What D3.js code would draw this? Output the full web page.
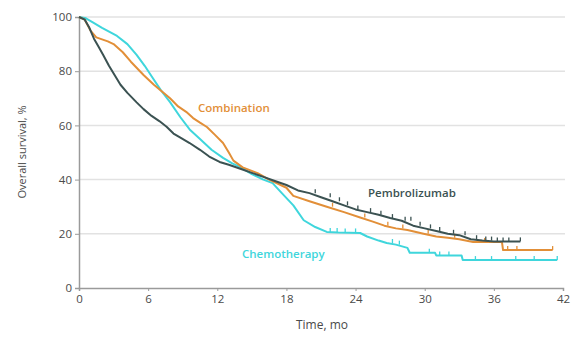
<!DOCTYPE html>
<html><head><meta charset="utf-8">
<script src="https://cdn.jsdelivr.net/npm/d3@7"></script>
<style>body{margin:0;background:#fff}svg{display:block}</style>
</head><body><svg id="c" width="576" height="338"></svg>
<script>
const xTicks = [0, 6, 12, 18, 24, 30, 36, 42];
const yTicks = [0, 20, 40, 60, 80, 100];
const seriesNames = ["Combination", "Pembrolizumab", "Chemotherapy"];
const pembroData = [[0,100],[0.5,99],[0.9,96],[1.3,92],[1.7,89],[2.1,86],[2.6,82],[3.1,78.5],[3.6,75],[4.2,72],[5,68.5],[5.6,66],[6.3,63.5],[7,61.5],[7.6,59.5],[8.2,57],[8.8,55.5],[9.6,53.5],[10.5,51],[11.3,48.5],[12.2,46.5],[13,45.5],[14,44],[15,42.5],[16,41],[17,39.5],[18,38],[19,36],[20,35],[21,33.5],[22,32],[23,30.5],[24,29],[25,28],[26,27],[27,25.8],[28,24.8],[29,23],[30,22],[31,21],[32,20],[33,19.5],[34,18],[35,17.5],[36,17.2],[38.3,17.2]];
const comboData = [[0,100],[0.5,99],[1,95],[1.5,92.5],[2.5,91],[3,90],[3.8,87],[4.5,83.5],[5.6,78.6],[6.5,75],[7.2,72.5],[7.9,70],[8.6,67],[9.3,65],[9.9,62.7],[10.5,61],[11.1,59.4],[11.8,56.5],[12.5,53.5],[13,50],[13.4,47],[14.2,44.5],[15.5,42.4],[16.5,40],[18,37],[18.6,34],[20,32],[21.5,30],[23,28],[24.4,26],[25.5,24.5],[26.5,23],[27.5,22],[28.5,21.4],[29.9,20],[31,19],[32,18.5],[33,18],[34.2,17],[36.7,17],[36.8,14],[41.1,14]];
const chemoData = [[0,100],[0.6,99.5],[1.2,98],[2,96],[3.3,93],[4.2,90],[5,86],[5.7,82],[6.4,77.5],[7.1,73],[7.9,68.6],[8.8,63],[9.6,58.5],[10.5,55],[11.5,51],[12.5,48],[13.3,46],[14,44.6],[15,42],[16,40],[16.8,38.7],[17.6,35],[18.6,30.5],[19.5,25],[20.5,22.5],[21.5,20.7],[22.5,20.5],[24.4,20.3],[25,19],[26,17.5],[26.7,16.6],[27.5,16],[28.5,14.8],[28.7,13],[30.9,13],[31,12],[33.2,12],[33.3,10.3],[41.5,10.3]];
const pembroCensor = [20.5,21.8,22.6,23.3,24.2,25.3,26.2,27.2,28.3,28.8,29.6,30.5,31.3,32.5,33.5,34.5,35.3,35.8,36.3,36.8,37.3,38.3];
const comboCensor = [22,24.8,26.8,28.1,30.3,32.6,35.2,37.2,38,41.1];
const chemoCensor = [21.8,22.4,23.1,24,27.2,27.8,30.4,31.3,32.1,34.4,35.8,37.9,39.5,41.5];
const colors = ["#e28f38", "#3b5252", "#3fd6dc"];

const svg = d3.select("#c");
const x = d3.scaleLinear().domain([0, 42]).range([79, 563]);
const y = d3.scaleLinear().domain([0, 100]).range([288, 17]);

svg.append("g").selectAll("line").data(yTicks.filter(d => d > 0)).join("line")
  .attr("x1", x(0)).attr("x2", 565).attr("y1", d => y(d)).attr("y2", d => y(d))
  .attr("stroke", "#e2e2e2").attr("stroke-width", 1.5);

const xAxis = svg.append("g").attr("transform", `translate(0,${y(0)})`)
  .call(d3.axisBottom(x).tickValues(xTicks).tickSize(3).tickPadding(4));
const yAxis = svg.append("g").attr("transform", `translate(${x(0)},0)`)
  .call(d3.axisLeft(y).tickValues(yTicks).tickSize(4).tickPadding(3));
[xAxis, yAxis].forEach(a => {
  a.select(".domain").attr("stroke", "#9a9a9a").attr("stroke-width", 1.5);
  a.selectAll(".tick line").attr("stroke", "#9a9a9a");
  a.selectAll("text").attr("fill", "#4a4a4a").style("font-family", "Open Sans").style("font-size", "11.5px");
});

svg.append("text").attr("x", 322).attr("y", 329).attr("text-anchor", "middle")
  .attr("fill", "#4a4a4a").style("font-family", "Open Sans").style("font-size", "12px").text("Time, mo");
svg.append("text").attr("transform", "translate(26,152) rotate(-90)").attr("text-anchor", "middle")
  .attr("fill", "#4a4a4a").style("font-family", "Open Sans").style("font-size", "11px").text("Overall survival, %");

const line = d3.line().x(d => x(d[0])).y(d => y(d[1])).curve(d3.curveLinear);
const all = [comboData, pembroData, chemoData];
const censors = [comboCensor, pembroCensor, chemoCensor];
const order = [2, 0, 1];
order.forEach(i => {
  svg.append("path").datum(all[i]).attr("d", line).attr("fill", "none")
    .attr("stroke", colors[i]).attr("stroke-width", 2).attr("stroke-linejoin", "round");
  const stepVal = t => { let v = all[i][0][1]; for (const p of all[i]) { if (p[0] <= t) v = p[1]; } return v; };
  svg.append("g").selectAll("line").data(censors[i]).join("line")
    .attr("x1", d => x(d)).attr("x2", d => x(d))
    .attr("y1", d => y(stepVal(d))).attr("y2", d => y(stepVal(d)) - 4)
    .attr("stroke", colors[i]).attr("stroke-width", 1.3);
});

const labelPos = [[198, 112], [368, 197], [242, 258]];
seriesNames.forEach((n, i) => {
  svg.append("text").attr("x", labelPos[i][0]).attr("y", labelPos[i][1])
    .attr("fill", colors[i]).style("font-family", "Open Sans").style("font-weight", 600)
    .style("font-size", "11.5px").text(n);
});
</script></body></html>
